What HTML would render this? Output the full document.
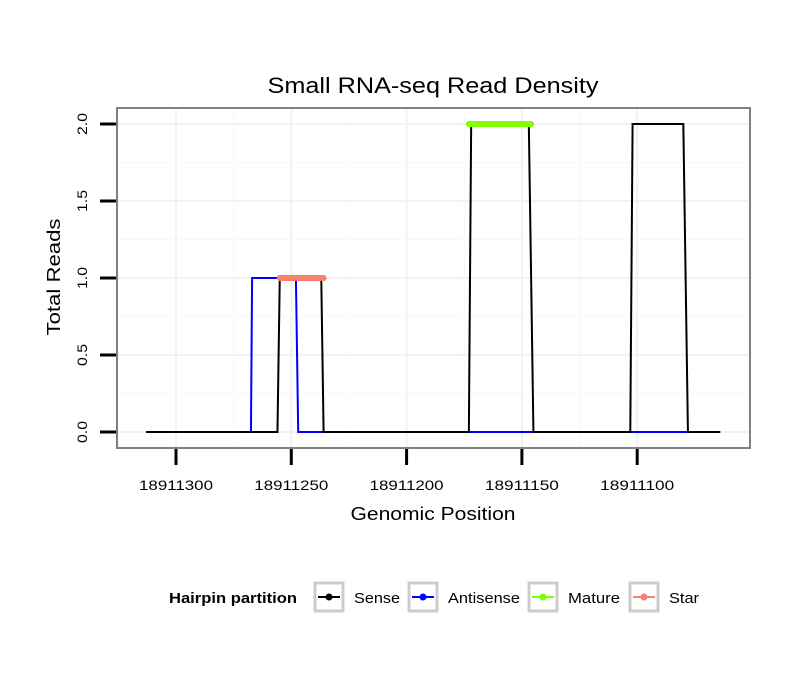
<!DOCTYPE html>
<html><head><meta charset="utf-8"><style>
body{margin:0;background:#fff;font-family:"Liberation Sans",sans-serif}
</style></head><body>
<svg id="c" width="810" height="690" xmlns="http://www.w3.org/2000/svg">
<text x="433" y="93" font-size="22" text-anchor="middle" textLength="331" lengthAdjust="spacingAndGlyphs">Small RNA-seq Read Density</text>
<g id="grid"></g><g id="series"></g>
<rect x="117" y="108" width="633" height="340" fill="none" stroke="#808080" stroke-width="2"/>
<g id="axes"></g>
<text x="433" y="520" font-size="18" text-anchor="middle" textLength="165" lengthAdjust="spacingAndGlyphs">Genomic Position</text>
<text transform="translate(60,277) rotate(-90)" font-size="18" text-anchor="middle" textLength="117" lengthAdjust="spacingAndGlyphs">Total Reads</text>
<g id="legend"></g>
</svg>
<script>
const xTicks=[18911300,18911250,18911200,18911150,18911100];
const yTicks=[0,0.5,1,1.5,2];
const yTickLabels=["0.0","0.5","1.0","1.5","2.0"];
const senseX=[18911313,18911256,18911255,18911237,18911236,18911173,18911172,18911147,18911145,18911103,18911102,18911080,18911078,18911064];
const senseY=[0,0,1,1,0,0,2,2,0,0,2,2,0,0];
const antisenseX=[18911313,18911267.5,18911267,18911248,18911247,18911064];
const antisenseY=[0,0,1,1,0,0];
const matureX=[18911173,18911146];
const matureY=[2,2];
const starX=[18911255,18911236];
const starY=[1,1];
const legendLabels=["Sense","Antisense","Mature","Star"];
const legendColors=["#000","#0000ff","#7fff00","#fa8072"];
const legendWidths=[46,72,52,30];

const NS="http://www.w3.org/2000/svg";
const X=v=>176+(18911300-v)*115.3/50;
const Y=v=>432-v*154;
function el(t,a,p){const e=document.createElementNS(NS,t);for(const k in a)e.setAttribute(k,a[k]);document.getElementById(p).appendChild(e);return e;}
for(let i=0;i<xTicks.length;i++){
  const g=el('line',{x1:X(xTicks[i]),x2:X(xTicks[i]),y1:108,y2:448,stroke:'#f2f2f2','stroke-width':2},'grid');
  
  
  const m=el('line',{x1:X(xTicks[i]+25),x2:X(xTicks[i]+25),y1:108,y2:448,stroke:'#f8f8f8','stroke-width':1},'grid');
  
  
}
for(let i=0;i<yTicks.length;i++){
  const g=el('line',{x1:117,x2:750,y1:Y(yTicks[i]),y2:Y(yTicks[i]),stroke:'#f2f2f2','stroke-width':2},'grid');
  
  
  if(i<yTicks.length-1){
    const m=el('line',{x1:117,x2:750,y1:Y(yTicks[i]+0.25),y2:Y(yTicks[i]+0.25),stroke:'#f8f8f8','stroke-width':1},'grid');
    
    
  }
}
function line(xs,ys,color,w,name){
  const pts=xs.map((x,i)=>X(x)+','+Y(ys[i])).join(' ');
  const p=el('polyline',{points:pts,fill:'none',stroke:color,'stroke-width':w,'stroke-linecap':w>3?'round':'butt'},'series');
  
  
}
line(antisenseX,antisenseY,'#0000ff',2,'antisense-line');
line(senseX,senseY,'#000',2,'sense-line');
line(matureX,matureY,'#7fff00',6,'mature-line');
line(starX,starY,'#fa8072',6,'star-line');
for(let i=0;i<xTicks.length;i++){
  const x=X(xTicks[i]);
  const t=el('line',{x1:x,x2:x,y1:449,y2:465,stroke:'#000','stroke-width':3},'axes');
  
  
  const l=el('text',{x:x,y:490,'font-size':14,'text-anchor':'middle',textLength:74,lengthAdjust:'spacingAndGlyphs'},'axes');
  l.textContent=xTicks[i];
  
  
}
for(let i=0;i<yTicks.length;i++){
  const y=Y(yTicks[i]);
  const t=el('line',{x1:100,x2:116,y1:y,y2:y,stroke:'#000','stroke-width':3},'axes');
  
  
  const l=el('text',{transform:`translate(87,${y}) rotate(-90)`,'font-size':14,'text-anchor':'middle',textLength:22,lengthAdjust:'spacingAndGlyphs'},'axes');
  l.textContent=yTickLabels[i];
  
  
}
const lt=el('text',{x:169,y:603,'font-size':15,'font-weight':'bold',textLength:128,lengthAdjust:'spacingAndGlyphs'},'legend');
lt.textContent='Hairpin partition';


const keyX=[315,409,529,630];
for(let i=0;i<legendLabels.length;i++){
  const kx=keyX[i];
  const r=el('rect',{x:kx,y:583,width:28,height:28,fill:'#fff',stroke:'#cccccc','stroke-width':3},'legend');
  
  
  el('line',{x1:kx+3,x2:kx+25,y1:597,y2:597,stroke:legendColors[i],'stroke-width':2},'legend');
  el('circle',{cx:kx+14,cy:597,r:3.5,fill:legendColors[i]},'legend');
  const t=el('text',{x:kx+39,y:603,'font-size':15,textLength:legendWidths[i],lengthAdjust:'spacingAndGlyphs'},'legend');
  t.textContent=legendLabels[i];
  
  
}
</script>
</body></html>
